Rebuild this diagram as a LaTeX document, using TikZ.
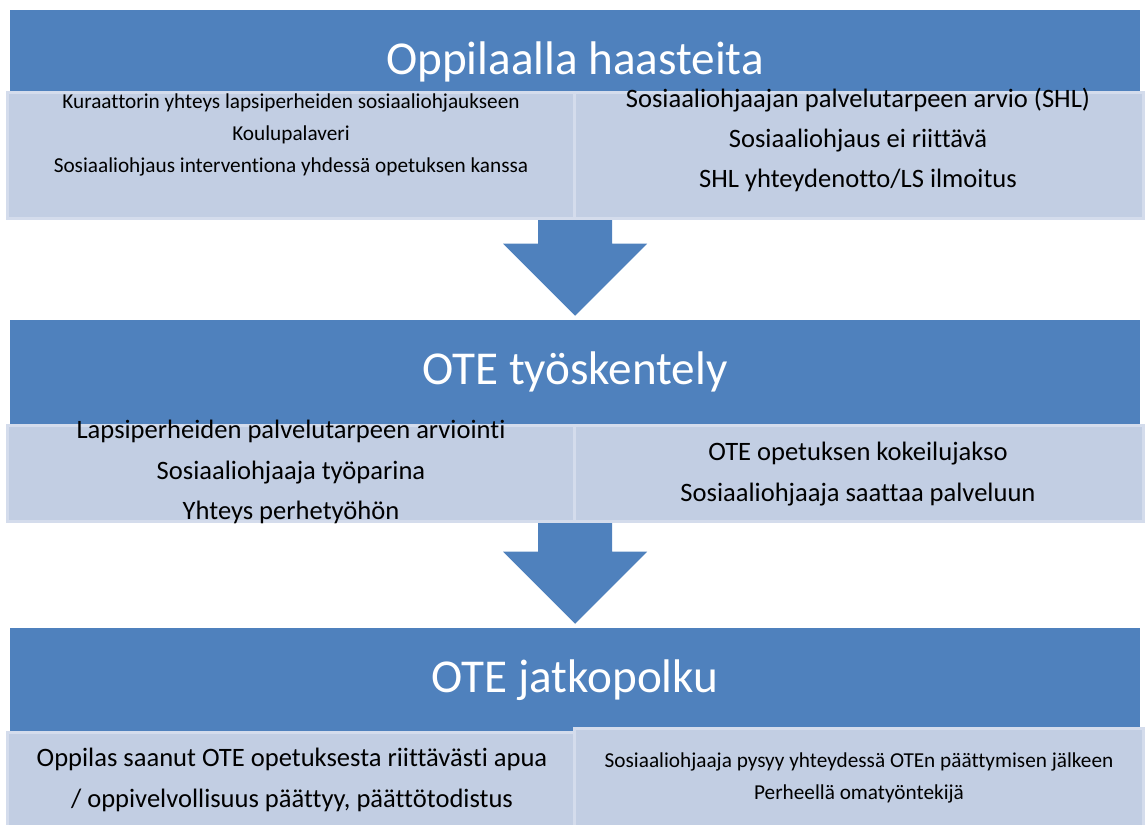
\documentclass[tikz,border=0pt]{standalone}
\usepackage{fontspec}
\setmainfont{Carlito}[RawFeature={-liga}]
\usetikzlibrary{calc}
\newlength{\px}
\setlength{\px}{0.75bp}
\definecolor{hdblue}{RGB}{79,129,189}
\definecolor{boxfill}{RGB}{194,206,227}
\definecolor{boxedge}{RGB}{212,220,236}
\tikzset{
  header/.style={fill=hdblue, text=white, inner sep=0pt, minimum width=1130*\px,
    minimum height=104*\px, font=\fontsize{35.5}{42}\selectfont},
  itembox/.style={fill=boxfill, draw=boxedge, line width=3*\px, inner sep=0pt,
    minimum width=569*\px},
  bigtxt/.style={align=center, inner sep=0pt, font=\fontsize{20}{30.4}\selectfont},
  smalltxt/.style={align=center, inner sep=0pt, font=\fontsize{16}{24.4}\selectfont},
}
% block arrow from one stage down to the next
\newcommand{\flowarrow}[2]{%
  \fill[hdblue] ($(#1)+(-37,0)$) -- ($(#2)+(-37,-76)$) -- ($(#2)+(-72,-76)$)
    -- ($(#2)+(0,-4)$) -- ($(#2)+(72,-76)$) -- ($(#2)+(37,-76)$)
    -- ($(#1)+(37,0)$) -- cycle;}
\begin{document}
\begin{tikzpicture}[x=\px, y=-\px]
\useasboundingbox (0,0) rectangle (1146,824);
% stages
\node[header] (hdA) at (575,62) {\raisebox{-2\px}{Oppilaalla haasteita}};
\node[header] (hdB) at (575,372) {\raisebox{-2\px}{OTE työskentely}};
\node[header] (hdC) at (575,680) {\raisebox{-2\px}{OTE jatkopolku}};
\flowarrow{hdA.south}{hdB.north}
\flowarrow{hdB.south}{hdC.north}
% boxes
\node[itembox, minimum height=126*\px] (bxA1) at (292,155) {};
\node[itembox, minimum height=126*\px] (bxA2) at (859,155) {};
\node[itembox, minimum height=96*\px] (bxB1) at (292,473) {};
\node[itembox, minimum height=96*\px] (bxB2) at (859,473) {};
\node[itembox, minimum height=98*\px] (bxC1) at (292,781) {};
\node[itembox, minimum height=102*\px] (bxC2) at (859,779) {};
% texts
\node[smalltxt] (txA1) at (291,135) {Kuraattorin yhteys lapsiperheiden sosiaaliohjaukseen\\
  Koulupalaveri\\ Sosiaaliohjaus interventiona yhdessä opetuksen kanssa};
\node[bigtxt] (txA2) at (858,140) {Sosiaaliohjaajan palvelutarpeen arvio (SHL)\\
  Sosiaaliohjaus ei riittävä\\ SHL yhteydenotto/LS ilmoitus};
\node[bigtxt] (txB1) at (291,472) {Lapsiperheiden palvelutarpeen arviointi\\
  Sosiaaliohjaaja työparina\\ Yhteys perhetyöhön};
\node[bigtxt] (txB2) at (858,474) {OTE opetuksen kokeilujakso\\
  Sosiaaliohjaaja saattaa palveluun};
\node[bigtxt] (txC1) at (292,780) {Oppilas saanut OTE opetuksesta riittävästi apua\\
  / oppivelvollisuus päättyy, päättötodistus};
\node[smalltxt] (txC2) at (859,778) {Sosiaaliohjaaja pysyy yhteydessä OTEn päättymisen jälkeen\\
  Perheellä omatyöntekijä};
\end{tikzpicture}
\end{document}
